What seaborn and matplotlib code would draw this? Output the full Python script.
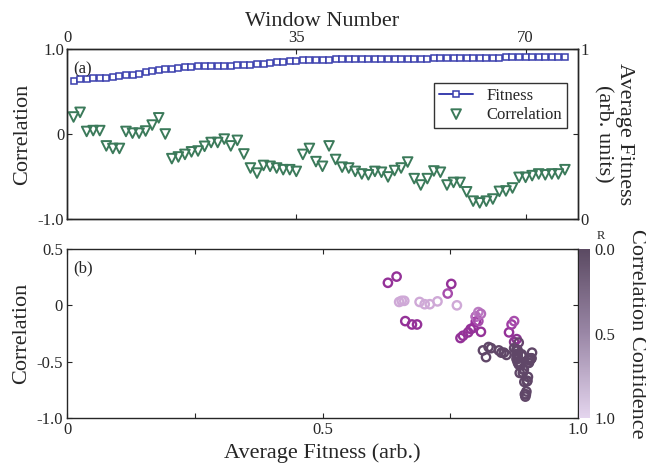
import numpy as np
import pandas as pd
import matplotlib
matplotlib.use("Agg")
import matplotlib.pyplot as plt
from matplotlib.colors import LinearSegmentedColormap, Normalize
from matplotlib.cm import ScalarMappable
import seaborn as sns

# ---------------- data ----------------
window = list(range(1, 77))
correlation = [0.20, 0.255, 0.03, 0.04, 0.04, -0.14, -0.17, -0.17, 0.03, 0.01,
               0.01, 0.035, 0.105, 0.19, 0.0, -0.29, -0.27, -0.24, -0.21, -0.20,
               -0.145, -0.10, -0.10, -0.06, -0.14, -0.075, -0.235, -0.40, -0.46, -0.37,
               -0.38, -0.40, -0.42, -0.42, -0.44, -0.24, -0.17, -0.325, -0.38, -0.14,
               -0.30, -0.39, -0.40, -0.44, -0.47, -0.48, -0.44, -0.45, -0.505, -0.43,
               -0.40, -0.33, -0.525, -0.60, -0.525, -0.435, -0.45, -0.60, -0.57, -0.57,
               -0.68, -0.79, -0.81, -0.79, -0.765, -0.675, -0.67, -0.635, -0.51, -0.51,
               -0.49, -0.47, -0.48, -0.47, -0.47, -0.42]
fitness = [0.628, 0.645, 0.650, 0.655, 0.660, 0.662, 0.675, 0.685, 0.690, 0.700,
           0.710, 0.725, 0.745, 0.752, 0.763, 0.770, 0.775, 0.785, 0.790, 0.795,
           0.800, 0.800, 0.800, 0.805, 0.805, 0.810, 0.810, 0.814, 0.820, 0.825,
           0.830, 0.845, 0.850, 0.855, 0.860, 0.865, 0.870, 0.875, 0.875, 0.875,
           0.880, 0.880, 0.880, 0.880, 0.880, 0.880, 0.880, 0.882, 0.882, 0.882,
           0.882, 0.884, 0.884, 0.886, 0.888, 0.890, 0.890, 0.892, 0.893, 0.894,
           0.895, 0.896, 0.897, 0.898, 0.899, 0.900, 0.901, 0.902, 0.903, 0.904,
           0.905, 0.906, 0.907, 0.908, 0.909, 0.910]
confidence = [0.45, 0.45, 0.9, 0.9, 0.9, 0.45, 0.45, 0.45, 0.9, 0.9,
              0.9, 0.9, 0.6, 0.45, 0.9, 0.45, 0.45, 0.45, 0.45, 0.45,
              0.5, 0.7, 0.7, 0.75, 0.6, 0.7, 0.45, 0.05, 0.05, 0.05,
              0.05, 0.05, 0.05, 0.05, 0.05, 0.45, 0.55, 0.35, 0.05, 0.6,
              0.4, 0.05, 0.05, 0.05, 0.05, 0.05, 0.05, 0.05, 0.05, 0.05,
              0.05, 0.1, 0.05, 0.05, 0.05, 0.05, 0.05, 0.05, 0.05, 0.05,
              0.05, 0.05, 0.05, 0.05, 0.05, 0.05, 0.05, 0.05, 0.05, 0.05,
              0.05, 0.05, 0.05, 0.05, 0.05, 0.05]

top_xticks = [0, 35, 70]
df = pd.DataFrame({"window": window, "corr": correlation,
                   "fit": fitness, "conf": confidence})

# ---------------- style ----------------
sns.set_style("ticks")
plt.rcParams["font.family"] = ["Liberation Serif", "DejaVu Serif"]
plt.rcParams["mathtext.fontset"] = "stix"
plt.rcParams["xtick.direction"] = "in"
plt.rcParams["ytick.direction"] = "in"
plt.rcParams["axes.linewidth"] = 1.0

blue = "#3a3fae"
green = "#3b7a5a"
pt_cmap = LinearSegmentedColormap.from_list("pts", ["#5a4a62", "#9a2f9e", "#dcc7e5"])
bar_cmap = LinearSegmentedColormap.from_list("bar", ["#5b4a62", "#9a87a6", "#e4d5ee"])

fig = plt.figure(figsize=(6.46, 4.69), dpi=100)
W, H = 646, 469
def rect(l, t, r, b):
    return [l / W, 1 - b / H, (r - l) / W, (b - t) / H]

# ---------------- top panel ----------------
ax1 = fig.add_axes(rect(67, 49, 578, 219))
sns.lineplot(data=df, x="window", y="fit", ax=ax1, color=blue, lw=1.4,
             marker="s", markersize=4.0, markerfacecolor="white",
             markeredgecolor=blue, markeredgewidth=1.1, label="Fitness")
sns.scatterplot(data=df, x="window", y="corr", ax=ax1, marker="v", s=48,
                color=green, label="Correlation")
tri = ax1.collections[-1]
tri.set_edgecolors(green)
tri.set_facecolors("none")
tri.set_linewidths(1.4)

ax1.set_xlim(0, 78)
ax1.set_ylim(-1, 1)
ax1.set_xticks(top_xticks)
ax1.xaxis.set_ticks_position("both")
ax1.tick_params(axis="x", labelbottom=False, labeltop=True, labelsize=12, pad=2)
ax1.xaxis.set_label_position("top")
ax1.set_xlabel("Window Number", fontsize=16, labelpad=3)
ax1.set_yticks([-1, 0, 1])
ax1.set_yticklabels(["-1.0", "0", "1.0"])
ax1.tick_params(axis="y", labelsize=12, pad=2)
ax1.set_ylabel("Correlation", fontsize=16, labelpad=4)
ax1.text(0.012, 0.93, "(a)", transform=ax1.transAxes, fontsize=12, va="top")

ax1r = ax1.twinx()
ax1r.set_ylim(-1, 1)
ax1r.set_yticks([-1, 0, 1])
ax1r.set_yticklabels(["0", "", "1"])
ax1r.tick_params(axis="y", direction="in", labelsize=12, pad=2)
ax1r.set_ylabel("Average Fitness\n(arb. units)", fontsize=16, rotation=-90,
                labelpad=32, linespacing=1.1)

leg = ax1.legend(loc="upper right", bbox_to_anchor=(0.978, 0.80), fontsize=12,
                 frameon=True, fancybox=False, borderpad=0.3, handlelength=2.0,
                 labelspacing=0.15, handletextpad=0.8, borderaxespad=0.0)
leg.get_frame().set_edgecolor("black")
leg.get_frame().set_linewidth(1.0)

# ---------------- bottom panel ----------------
ax2 = fig.add_axes(rect(67, 249, 578, 418))
sns.scatterplot(data=df, x="fit", y="corr", hue="conf", palette=pt_cmap,
                hue_norm=(0, 1), ax=ax2, s=36, legend=False)
pts = ax2.collections[-1]
pts.set_edgecolors(pts.get_facecolors())
pts.set_facecolors("none")
pts.set_linewidths(1.7)

ax2.set_xlim(0, 1)
ax2.set_ylim(-1, 0.5)
ax2.set_xticks([0, 0.25, 0.5, 0.75, 1.0])
ax2.set_xticklabels(["0", "", "0.5", "", "1.0"])
ax2.set_yticks([-1, -0.5, 0, 0.5])
ax2.set_yticklabels(["-1.0", "-0.5", "0", "0.5"])
ax2.xaxis.set_ticks_position("both")
ax2.yaxis.set_ticks_position("both")
ax2.tick_params(labelsize=12, pad=3)
ax2.set_xlabel("Average Fitness (arb.)", fontsize=16, labelpad=4)
ax2.set_ylabel("Correlation", fontsize=16, labelpad=4)
ax2.text(0.012, 0.93, "(b)", transform=ax2.transAxes, fontsize=12, va="top")

cax = fig.add_axes(rect(579, 249, 590, 418))
sm = ScalarMappable(norm=Normalize(0, 1), cmap=bar_cmap)
cb = fig.colorbar(sm, cax=cax)
cb.outline.set_visible(False)
cb.set_ticks([0, 0.5, 1.0])
cb.set_ticklabels(["0.0", "0.5", "1.0"])
cax.invert_yaxis()
cax.tick_params(length=0, labelsize=12, pad=3)
cb.set_label("Correlation Confidence", fontsize=16, rotation=-90, labelpad=22)
fig.text(601 / W, 1 - 236 / H, "R", fontsize=9, ha="center", va="center")

fig.savefig("out.png", dpi=100)
